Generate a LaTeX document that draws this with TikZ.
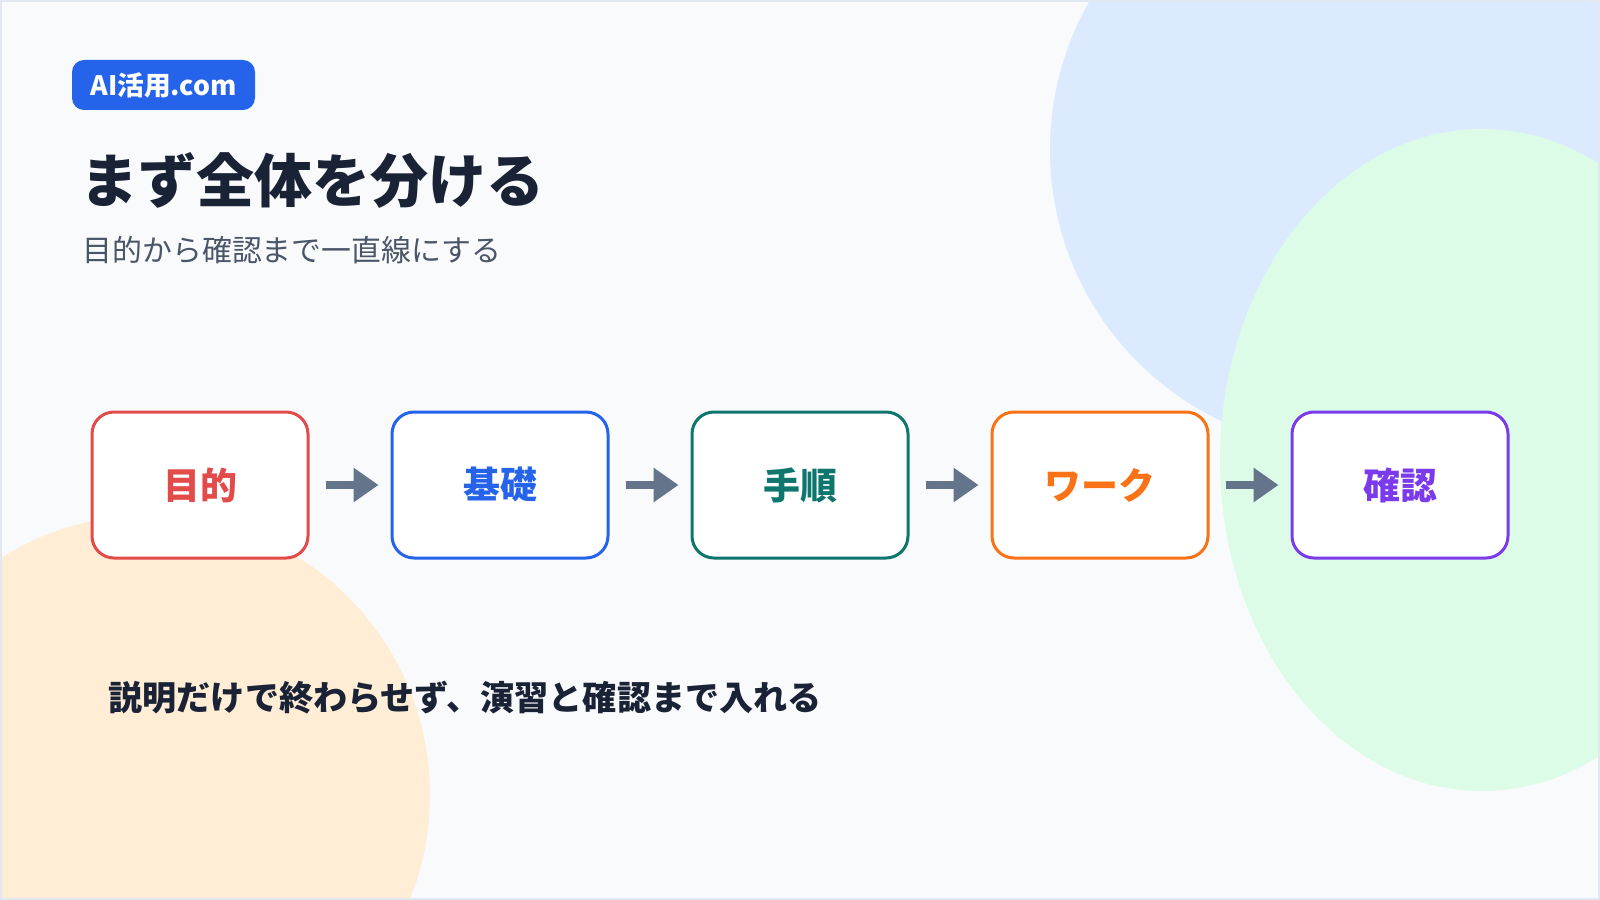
\documentclass[tikz,border=0pt]{standalone}
\usepackage{fontspec}
\setmainfont{Noto Sans CJK JP}
\usetikzlibrary{arrows.meta}

\definecolor{bg}{HTML}{F8FAFC}
\definecolor{framegray}{HTML}{E2E8F0}
\definecolor{blobblue}{HTML}{DBEAFE}
\definecolor{blobgreen}{HTML}{DCFCE7}
\definecolor{blobpeach}{HTML}{FFEDD5}
\definecolor{ink}{HTML}{1A2236}
\definecolor{subink}{HTML}{4B5568}
\definecolor{badgeblue}{HTML}{2563EB}
\definecolor{arrowgray}{HTML}{64748B}
\definecolor{cred}{HTML}{E34B4B}
\definecolor{cblue}{HTML}{2563EB}
\definecolor{cteal}{HTML}{0F766E}
\definecolor{corange}{HTML}{F97316}
\definecolor{cpurple}{HTML}{7C3AED}

\tikzset{
	badge/.style={fill=badgeblue, text=white, rounded corners=1.2mm, minimum width=18.3mm,
		minimum height=5mm, inner sep=0pt, font=\fontsize{7.6pt}{10pt}\selectfont\bfseries},
	stepbox/.style={draw=#1, text=#1, fill=white, line width=0.3mm, rounded corners=2.2mm,
		minimum width=21.6mm, minimum height=14.6mm, inner sep=0pt,
		font=\fontsize{10.5pt}{12pt}\selectfont\bfseries},
	flow/.style={draw=arrowgray, line width=0.8mm, -{Triangle[length=2.5mm,width=3.3mm]},
		shorten <=1.6mm, shorten >=1.2mm}
}

\begin{document}
\begin{tikzpicture}[x=0.1mm,y=-0.1mm]
	\useasboundingbox (0,0) rectangle (1600,900);
	\begin{scope}
		\clip (0,0) rectangle (1600,900);
		\fill[bg] (0,0) rectangle (1600,900);
		\fill[blobblue] (1350,150) circle (300);
		\fill[blobgreen] (1482,460) ellipse [x radius=262, y radius=331];
		\fill[blobpeach] (150,795) circle (280);
	\end{scope}
	\draw[framegray, line width=0.2mm] (1,1) rectangle (1599,899);

	\node[badge] (logo) at (163.5,85) {AI活用.com};
	\node[anchor=west, inner sep=0pt, text=ink, font=\fontsize{16.5pt}{20pt}\selectfont\bfseries]
		(title) at (80,180) {まず全体を分ける};
	\node[anchor=west, inner sep=0pt, text=subink, font=\fontsize{8.5pt}{10pt}\selectfont]
		(subtitle) at (82,250) {目的から確認まで一直線にする};

	\foreach \i/\t/\c in {1/目的/cred, 2/基礎/cblue, 3/手順/cteal, 4/ワーク/corange, 5/確認/cpurple}
		\node[stepbox=\c] (s\i) at (\i*300-100,485) {\t};
	\foreach \i/\j in {1/2, 2/3, 3/4, 4/5}
		\draw[flow] (s\i) -- (s\j);

	\node[anchor=west, inner sep=0pt, text=ink, font=\fontsize{9.7pt}{12pt}\selectfont\bfseries]
		(note) at (108,698) {説明だけで終わらせず、演習と確認まで入れる};
\end{tikzpicture}
\end{document}
